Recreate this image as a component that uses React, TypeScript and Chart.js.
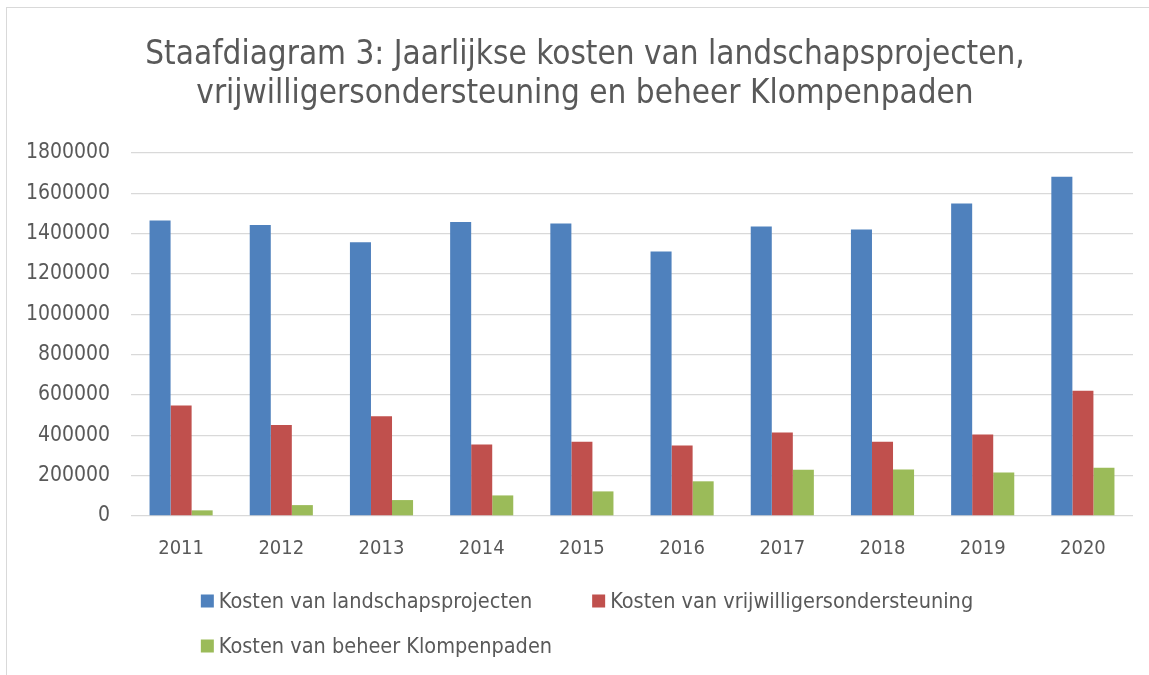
import React, { useEffect, useRef } from "react";
import { Chart, registerables } from "chart.js";

Chart.register(...registerables);

const FONT = "'DejaVu Sans Condensed', 'Liberation Sans Narrow', 'Open Sans', sans-serif";
const TEXT_COLOR = "#595959";

const titleLines = [
  "Staafdiagram 3: Jaarlijkse kosten van landschapsprojecten,",
  "vrijwilligersondersteuning en beheer Klompenpaden",
];

const years = ["2011", "2012", "2013", "2014", "2015", "2016", "2017", "2018", "2019", "2020"];

const seriesNames = [
  "Kosten van landschapsprojecten",
  "Kosten van vrijwilligersondersteuning",
  "Kosten van beheer Klompenpaden",
];

const landschapsprojecten = [1465000, 1443000, 1357000, 1458000, 1450000, 1312000, 1435000, 1421000, 1550000, 1682000];
const vrijwilligers = [548000, 451000, 495000, 355000, 368000, 350000, 414000, 368000, 404000, 621000];
const klompenpaden = [28000, 54000, 79000, 102000, 122000, 172000, 229000, 231000, 216000, 239000];

const yTickValues = [0, 200000, 400000, 600000, 800000, 1000000, 1200000, 1400000, 1600000, 1800000];

const colors = ["#4F81BD", "#C0504D", "#9BBB59"];

// The chart frame is wider than the visible window; its centre sits here.
const FRAME_CENTER = 585;

const excelTitle = {
  id: "excelTitle",
  afterDraw(chart: any) {
    const ctx = chart.ctx as CanvasRenderingContext2D;
    ctx.save();
    ctx.font = `33px ${FONT}`;
    ctx.fillStyle = TEXT_COLOR;
    ctx.textAlign = "center";
    ctx.textBaseline = "alphabetic";
    const top = chart.chartArea.top;
    titleLines.forEach((line, i) => {
      ctx.fillText(line, FRAME_CENTER, top - 89 + i * 39);
    });
    ctx.restore();
  },
};

const excelLegend = {
  id: "excelLegend",
  afterDraw(chart: any) {
    const ctx = chart.ctx as CanvasRenderingContext2D;
    const area = chart.chartArea;
    ctx.save();
    ctx.font = `21.5px ${FONT}`;
    ctx.textBaseline = "middle";
    ctx.textAlign = "left";
    const box = 13;
    const gap = 5;
    const itemGap = 60;
    const maxRow = 820;
    const items = chart.data.datasets.map((ds: any) => ({
      label: ds.label as string,
      color: ds.backgroundColor as string,
      w: box + gap + ctx.measureText(ds.label).width,
    }));
    const rows: any[][] = [[]];
    let rowW = 0;
    items.forEach((it: any) => {
      const add = (rows[rows.length - 1].length ? itemGap : 0) + it.w;
      if (rows[rows.length - 1].length && rowW + add > maxRow) {
        rows.push([it]);
        rowW = it.w;
      } else {
        rows[rows.length - 1].push(it);
        rowW += add;
      }
    });
    const widths = rows.map((r) => r.reduce((s, it, i) => s + it.w + (i ? itemGap : 0), 0));
    const blockW = Math.max(...widths);
    const left = FRAME_CENTER + 2 - blockW / 2;
    rows.forEach((r, ri) => {
      const y = area.bottom + 85 + ri * 45;
      let x = left;
      r.forEach((it: any) => {
        ctx.fillStyle = it.color;
        ctx.fillRect(x, y - box / 2, box, box);
        ctx.fillStyle = TEXT_COLOR;
        ctx.fillText(it.label, x + box + gap, y + 1);
        x += it.w + itemGap;
      });
    });
    ctx.restore();
  },
};

export default function App() {
  const canvasRef = useRef<HTMLCanvasElement | null>(null);

  useEffect(() => {
    if (!canvasRef.current) return;
    const chart = new Chart(canvasRef.current, {
      type: "bar",
      data: {
        labels: years,
        datasets: [
          { label: seriesNames[0], data: landschapsprojecten, backgroundColor: colors[0] },
          { label: seriesNames[1], data: vrijwilligers, backgroundColor: colors[1] },
          { label: seriesNames[2], data: klompenpaden, backgroundColor: colors[2] },
        ],
      },
      options: {
        animation: false,
        responsive: true,
        maintainAspectRatio: false,
        layout: { padding: { left: 0, right: 16, top: 153, bottom: 99 } },
        datasets: { bar: { categoryPercentage: 0.63, barPercentage: 1 } },
        plugins: {
          legend: { display: false },
          tooltip: { enabled: false },
          title: { display: false },
        },
        scales: {
          x: {
            grid: { display: false, drawTicks: false },
            border: { display: false },
            ticks: { color: TEXT_COLOR, font: { family: FONT, size: 20 }, padding: 21 },
            afterFit: (scale: any) => {
              scale.height = 60;
            },
          },
          y: {
            min: 0,
            max: 1800000,
            grid: { color: "#D9D9D9", lineWidth: 1.3, drawTicks: false },
            border: { display: false },
            ticks: {
              color: TEXT_COLOR,
              font: { family: FONT, size: 21 },
              padding: 21,
              callback: (v: any) => String(v),
            },
            afterBuildTicks: (scale: any) => {
              scale.ticks = yTickValues.map((v) => ({ value: v }));
            },
            afterFit: (scale: any) => {
              scale.width = 131;
            },
          },
        },
      },
      plugins: [excelTitle, excelLegend],
    });
    return () => chart.destroy();
  }, []);

  return (
    <div
      style={{
        position: "fixed",
        left: 0,
        top: 0,
        width: 1149,
        height: 675,
        background: "#fff",
        overflow: "hidden",
      }}
    >
      <div
        style={{
          position: "absolute",
          left: 6,
          top: 7,
          width: 1180,
          height: 700,
          border: "1px solid #D9D9D9",
          boxSizing: "border-box",
        }}
      />
      <div style={{ position: "absolute", left: 0, top: 0, width: 1149, height: 675 }}>
        <canvas ref={canvasRef} />
      </div>
    </div>
  );
}
